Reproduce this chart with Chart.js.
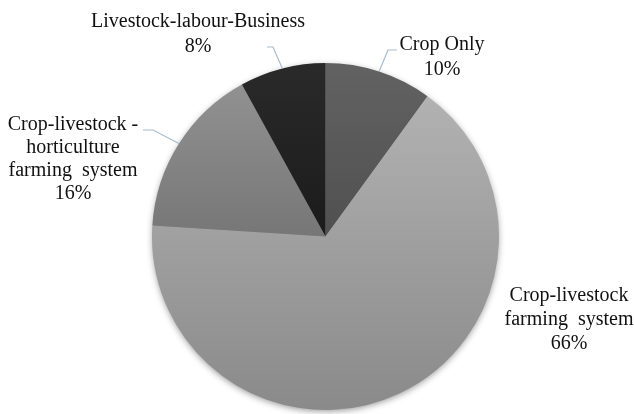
<!DOCTYPE html>
<html>
<head>
<meta charset="utf-8">
<script src="https://cdn.jsdelivr.net/npm/chart.js@4.4.0/dist/chart.umd.min.js"></script>
<style>
    html, body { margin: 0; padding: 0; background: #fff; }
    #wrap { width: 634px; height: 414px; }
</style>
</head>
<body>
<div id="wrap"><canvas id="pieChart" width="634" height="414"></canvas></div>
<script>
// chart data
const categories = [
    ['Crop Only'],
    ['Crop-livestock', 'farming  system'],
    ['Crop-livestock -', 'horticulture', 'farming  system'],
    ['Livestock-labour-Business']
];
const shares = [10, 66, 16, 8];

// slice shading, top -> bottom of the pie (Excel style gradient)
const topColors = ['#626262', '#b6b6b6', '#959595', '#2a2a2a'];
const bottomColors = ['#3e3e3e', '#8a8a8a', '#585858', '#0c0c0c'];

// label placement: text centre of first line, line step, leader elbow / end (null = no leader)
const labelPos = [
    { x: 442, y: 45, step: 25, leader: { ex: 388, ey: 50, tx: 397 } },
    { x: 569, y: 296, step: 24, leader: null },
    { x: 73, y: 125, step: 23, leader: { ex: 153, ey: 130, tx: 143 } },
    { x: 198, y: 22, step: 25, leader: { ex: 273, ey: 47, tx: 267 } }
];

function sliceGradient(context, i) {
    const chart = context.chart;
    const area = chart.chartArea;
    if (!area) return topColors[i];
    const g = chart.ctx.createLinearGradient(0, area.top, 0, area.bottom);
    g.addColorStop(0, topColors[i]);
    g.addColorStop(1, bottomColors[i]);
    return g;
}

const pieShadow = {
    id: 'pieShadow',
    beforeDatasetsDraw(chart) {
        const arc = chart.getDatasetMeta(0).data[0];
        if (!arc) return;
        const ctx = chart.ctx;
        ctx.save();
        ctx.shadowColor = 'rgba(0,0,0,0.45)';
        ctx.shadowBlur = 7;
        ctx.shadowOffsetY = 2;
        ctx.fillStyle = '#999';
        ctx.beginPath();
        ctx.arc(arc.x, arc.y, arc.outerRadius - 1, 0, Math.PI * 2);
        ctx.fill();
        ctx.restore();
    }
};

const sliceLabels = {
    id: 'sliceLabels',
    afterDraw(chart) {
        const ctx = chart.ctx;
        const meta = chart.getDatasetMeta(0);
        const total = shares.reduce((a, b) => a + b, 0);
        ctx.save();
        meta.data.forEach((arc, i) => {
            const pos = labelPos[i];
            if (pos.leader) {
                const mid = (arc.startAngle + arc.endAngle) / 2;
                const ax = arc.x + Math.cos(mid) * arc.outerRadius;
                const ay = arc.y + Math.sin(mid) * arc.outerRadius;
                ctx.strokeStyle = '#a9bbd0';
                ctx.lineWidth = 1.2;
                ctx.beginPath();
                ctx.moveTo(ax, ay);
                ctx.lineTo(pos.leader.ex, pos.leader.ey);
                ctx.lineTo(pos.leader.tx, pos.leader.ey);
                ctx.stroke();
            }
            const lines = categories[i].concat([Math.round(shares[i] / total * 100) + '%']);
            ctx.fillStyle = '#111';
            ctx.font = '20px "Liberation Serif", "Times New Roman", serif';
            ctx.textAlign = 'center';
            ctx.textBaseline = 'middle';
            lines.forEach((txt, k) => {
                ctx.fillText(txt, pos.x, pos.y + k * pos.step);
            });
        });
        ctx.restore();
    }
};

new Chart(document.getElementById('pieChart'), {
    type: 'pie',
    data: {
        labels: categories.map(c => c.join(' ')),
        datasets: [{
            data: shares,
            backgroundColor: (context) => sliceGradient(context, context.dataIndex),
            borderWidth: 0
        }]
    },
    options: {
        responsive: false,
        animation: false,
        devicePixelRatio: 1,
        layout: { padding: { top: 63, bottom: 4, left: 17, right: 0 } },
        plugins: {
            legend: { display: false },
            tooltip: { enabled: false }
        }
    },
    plugins: [pieShadow, sliceLabels]
});
</script>
</body>
</html>
